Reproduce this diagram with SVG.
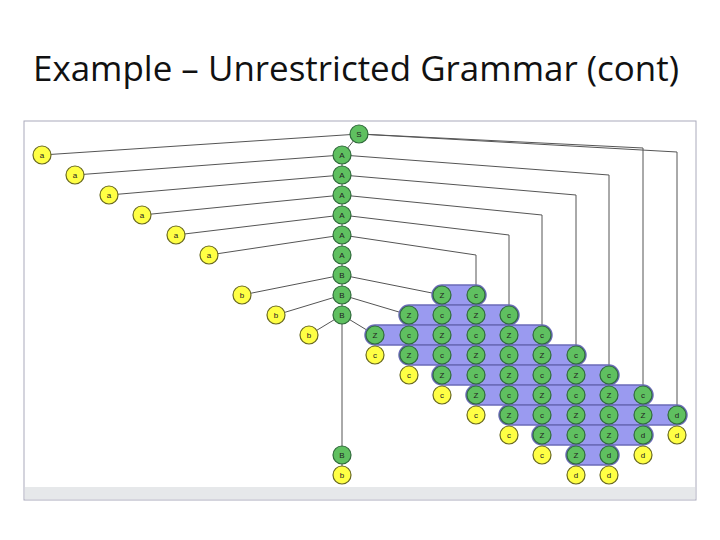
<svg xmlns="http://www.w3.org/2000/svg" width="720" height="540" viewBox="0 0 720 540">
<style>
.g{fill:#5fc060;stroke:#2f6a3a;stroke-width:1.2}
.y{fill:#ffff44;stroke:#6a6a20;stroke-width:1.2}
.t{font-family:"Liberation Sans",Arial,sans-serif;font-size:8px;text-anchor:middle;fill:#222}
.band{fill:#9a9af0;stroke:#6b6bb8;stroke-width:1.5}
.e{stroke:#555;stroke-width:1;fill:none}
</style>
<rect width="720" height="540" fill="#fff"/>
<text x="356" y="81" font-family="'Open Sans','Liberation Sans',sans-serif" font-size="34" text-anchor="middle" fill="#111" textLength="646" lengthAdjust="spacingAndGlyphs">Example – Unrestricted Grammar (cont)</text>
<rect x="24" y="121" width="672" height="379" fill="#fff" stroke="#aab" stroke-width="1"/>
<rect x="25" y="487" width="670" height="12" fill="#e6e8ea"/>
<g id="connectors" class="e">
<path d="M359 134L42 155M342 155L75 175M342 175L109 195M342 195L142 215M342 215L176 235M342 235L209 255"/>
<path d="M342 275L242 295M342 295L276 315M342 315L309 335"/>
<path d="M359 134L342 155L342 455M342 455L342 475"/>
<path d="M342 275L442 295M342 295L409 315M342 315L375 335"/>
<path d="M359 134L643 148L643 395M359 134L677 152L677 415"/>
<path d="M342 155L609 175L609 375M342 175L576 195L576 355M342 195L542 215L542 335M342 215L509 235L509 315M342 235L476 255L476 295"/>
</g>
<g id="bands">
<rect class="band" x="432" y="285" width="54" height="20" rx="10"/>
<rect class="band" x="399" y="305" width="120" height="20" rx="10"/>
<rect class="band" x="365" y="325" width="187" height="20" rx="10"/>
<rect class="band" x="399" y="345" width="187" height="20" rx="10"/>
<rect class="band" x="432" y="365" width="187" height="20" rx="10"/>
<rect class="band" x="466" y="385" width="187" height="20" rx="10"/>
<rect class="band" x="499" y="405" width="188" height="20" rx="10"/>
<rect class="band" x="532" y="425" width="121" height="20" rx="10"/>
<rect class="band" x="566" y="445" width="53" height="20" rx="10"/>
</g>
<g id="nodes">
<g id="nS"><circle class="g" cx="359" cy="134" r="9"/><text class="t" x="359" y="137">S</text></g>
<g id="nA1"><circle class="g" cx="342" cy="155" r="9"/><text class="t" x="342" y="158">A</text></g>
<g id="nA2"><circle class="g" cx="342" cy="175" r="9"/><text class="t" x="342" y="178">A</text></g>
<g id="nA3"><circle class="g" cx="342" cy="195" r="9"/><text class="t" x="342" y="198">A</text></g>
<g id="nA4"><circle class="g" cx="342" cy="215" r="9"/><text class="t" x="342" y="218">A</text></g>
<g id="nA5"><circle class="g" cx="342" cy="235" r="9"/><text class="t" x="342" y="238">A</text></g>
<g id="nA6"><circle class="g" cx="342" cy="255" r="9"/><text class="t" x="342" y="258">A</text></g>
<g id="nB1"><circle class="g" cx="342" cy="275" r="9"/><text class="t" x="342" y="278">B</text></g>
<g id="nB2"><circle class="g" cx="342" cy="295" r="9"/><text class="t" x="342" y="298">B</text></g>
<g id="nB3"><circle class="g" cx="342" cy="315" r="9"/><text class="t" x="342" y="318">B</text></g>
<g id="nB4"><circle class="g" cx="342" cy="455" r="9"/><text class="t" x="342" y="458">B</text></g>
<g id="nb4"><circle class="y" cx="342" cy="475" r="9"/><text class="t" x="342" y="478">b</text></g>
<g id="na1"><circle class="y" cx="42" cy="155" r="9"/><text class="t" x="42" y="158">a</text></g>
<g id="na2"><circle class="y" cx="75" cy="175" r="9"/><text class="t" x="75" y="178">a</text></g>
<g id="na3"><circle class="y" cx="109" cy="195" r="9"/><text class="t" x="109" y="198">a</text></g>
<g id="na4"><circle class="y" cx="142" cy="215" r="9"/><text class="t" x="142" y="218">a</text></g>
<g id="na5"><circle class="y" cx="176" cy="235" r="9"/><text class="t" x="176" y="238">a</text></g>
<g id="na6"><circle class="y" cx="209" cy="255" r="9"/><text class="t" x="209" y="258">a</text></g>
<g id="nb1"><circle class="y" cx="242" cy="295" r="9"/><text class="t" x="242" y="298">b</text></g>
<g id="nb2"><circle class="y" cx="276" cy="315" r="9"/><text class="t" x="276" y="318">b</text></g>
<g id="nb3"><circle class="y" cx="309" cy="335" r="9"/><text class="t" x="309" y="338">b</text></g>
<g id="r1"><circle class="g" cx="442" cy="295" r="9"/><text class="t" x="442" y="298">Z</text><circle class="g" cx="476" cy="295" r="9"/><text class="t" x="476" y="298">c</text></g>
<g id="r2"><circle class="g" cx="409" cy="315" r="9"/><text class="t" x="409" y="318">Z</text><circle class="g" cx="442" cy="315" r="9"/><text class="t" x="442" y="318">c</text><circle class="g" cx="476" cy="315" r="9"/><text class="t" x="476" y="318">Z</text><circle class="g" cx="509" cy="315" r="9"/><text class="t" x="509" y="318">c</text></g>
<g id="r3"><circle class="g" cx="375" cy="335" r="9"/><text class="t" x="375" y="338">Z</text><circle class="g" cx="409" cy="335" r="9"/><text class="t" x="409" y="338">c</text><circle class="g" cx="442" cy="335" r="9"/><text class="t" x="442" y="338">Z</text><circle class="g" cx="476" cy="335" r="9"/><text class="t" x="476" y="338">c</text><circle class="g" cx="509" cy="335" r="9"/><text class="t" x="509" y="338">Z</text><circle class="g" cx="542" cy="335" r="9"/><text class="t" x="542" y="338">c</text></g>
<g id="r4"><circle class="y" cx="375" cy="355" r="9"/><text class="t" x="375" y="358">c</text><circle class="g" cx="409" cy="355" r="9"/><text class="t" x="409" y="358">Z</text><circle class="g" cx="442" cy="355" r="9"/><text class="t" x="442" y="358">c</text><circle class="g" cx="476" cy="355" r="9"/><text class="t" x="476" y="358">Z</text><circle class="g" cx="509" cy="355" r="9"/><text class="t" x="509" y="358">c</text><circle class="g" cx="542" cy="355" r="9"/><text class="t" x="542" y="358">Z</text><circle class="g" cx="576" cy="355" r="9"/><text class="t" x="576" y="358">c</text></g>
<g id="r5"><circle class="y" cx="409" cy="375" r="9"/><text class="t" x="409" y="378">c</text><circle class="g" cx="442" cy="375" r="9"/><text class="t" x="442" y="378">Z</text><circle class="g" cx="476" cy="375" r="9"/><text class="t" x="476" y="378">c</text><circle class="g" cx="509" cy="375" r="9"/><text class="t" x="509" y="378">Z</text><circle class="g" cx="542" cy="375" r="9"/><text class="t" x="542" y="378">c</text><circle class="g" cx="576" cy="375" r="9"/><text class="t" x="576" y="378">Z</text><circle class="g" cx="609" cy="375" r="9"/><text class="t" x="609" y="378">c</text></g>
<g id="r6"><circle class="y" cx="442" cy="395" r="9"/><text class="t" x="442" y="398">c</text><circle class="g" cx="476" cy="395" r="9"/><text class="t" x="476" y="398">Z</text><circle class="g" cx="509" cy="395" r="9"/><text class="t" x="509" y="398">c</text><circle class="g" cx="542" cy="395" r="9"/><text class="t" x="542" y="398">Z</text><circle class="g" cx="576" cy="395" r="9"/><text class="t" x="576" y="398">c</text><circle class="g" cx="609" cy="395" r="9"/><text class="t" x="609" y="398">Z</text><circle class="g" cx="643" cy="395" r="9"/><text class="t" x="643" y="398">c</text></g>
<g id="r7"><circle class="y" cx="476" cy="415" r="9"/><text class="t" x="476" y="418">c</text><circle class="g" cx="509" cy="415" r="9"/><text class="t" x="509" y="418">Z</text><circle class="g" cx="542" cy="415" r="9"/><text class="t" x="542" y="418">c</text><circle class="g" cx="576" cy="415" r="9"/><text class="t" x="576" y="418">Z</text><circle class="g" cx="609" cy="415" r="9"/><text class="t" x="609" y="418">c</text><circle class="g" cx="643" cy="415" r="9"/><text class="t" x="643" y="418">Z</text><circle class="g" cx="677" cy="415" r="9"/><text class="t" x="677" y="418">d</text></g>
<g id="r8"><circle class="y" cx="509" cy="435" r="9"/><text class="t" x="509" y="438">c</text><circle class="g" cx="542" cy="435" r="9"/><text class="t" x="542" y="438">Z</text><circle class="g" cx="576" cy="435" r="9"/><text class="t" x="576" y="438">c</text><circle class="g" cx="609" cy="435" r="9"/><text class="t" x="609" y="438">Z</text><circle class="g" cx="643" cy="435" r="9"/><text class="t" x="643" y="438">d</text><circle class="y" cx="677" cy="435" r="9"/><text class="t" x="677" y="438">d</text></g>
<g id="r9"><circle class="y" cx="542" cy="455" r="9"/><text class="t" x="542" y="458">c</text><circle class="g" cx="576" cy="455" r="9"/><text class="t" x="576" y="458">Z</text><circle class="g" cx="609" cy="455" r="9"/><text class="t" x="609" y="458">d</text><circle class="y" cx="643" cy="455" r="9"/><text class="t" x="643" y="458">d</text></g>
<g id="r10"><circle class="y" cx="576" cy="475" r="9"/><text class="t" x="576" y="478">d</text><circle class="y" cx="609" cy="475" r="9"/><text class="t" x="609" y="478">d</text></g>
</g>
</svg>
